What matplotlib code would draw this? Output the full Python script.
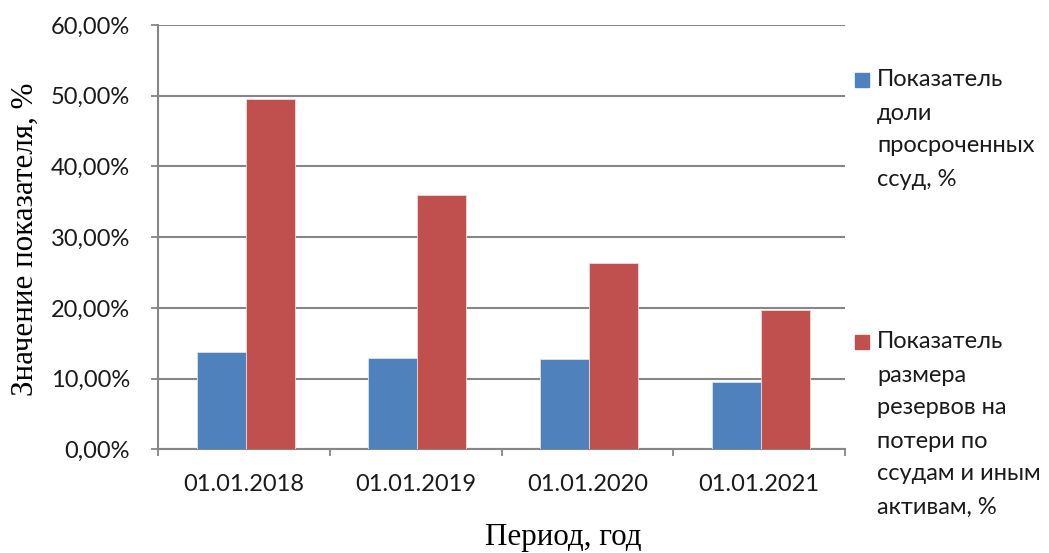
import matplotlib
matplotlib.use("Agg")
import matplotlib.pyplot as plt
from matplotlib.patches import Rectangle
from matplotlib.ticker import FuncFormatter, FixedLocator
import numpy as np

categories = ["01.01.2018", "01.01.2019", "01.01.2020", "01.01.2021"]
overdue_share = [13.8, 12.9, 12.8, 9.45]
reserves_share = [49.6, 35.9, 26.4, 19.7]
series_names = ["Показатель\nдоли\nпросроченных\nссуд, %",
                "Показатель\nразмера\nрезервов на\nпотери по\nссудам и иным\nактивам, %"]
colors = ["#4F81BD", "#C0504D"]
y_label = "Значение показателя, %"
x_label = "Период, год"

W, H = 1049, 553
fig = plt.figure(figsize=(W / 100, H / 100), dpi=100)
L, R, B, T = 158, 845, 449.3, 25
ax = fig.add_axes([L / W, 1 - B / H, (R - L) / W, (B - T) / H])

tick_font = "Lato"
grid_c = "#868686"
fs = 17

x = np.arange(len(categories))
bw = 0.285
ax.bar(x - bw / 2 + 0.01, overdue_share, width=bw, color=colors[0], edgecolor="#dbe4f0", linewidth=0.6, zorder=3)
ax.bar(x + bw / 2 + 0.01, reserves_share, width=bw, color=colors[1], edgecolor="#f0dada", linewidth=0.6, zorder=3)

ax.set_xlim(-0.5, len(categories) - 0.5)
ax.set_ylim(0, 60)
ax.yaxis.set_major_locator(FixedLocator(np.arange(0, 61, 10)))
ax.yaxis.set_major_formatter(FuncFormatter(lambda v, p: f"{v:.2f}%".replace(".", ",")))
ax.grid(axis="y", color=grid_c, linewidth=1.5, zorder=0)
ax.set_axisbelow(True)

ax.set_xticks(x)
ax.set_xticklabels(categories)
ax.set_xticks(np.arange(-0.5, len(categories)), minor=True)
ax.tick_params(axis="x", which="major", length=0, pad=18)
ax.tick_params(axis="x", which="minor", length=5, width=1.3, color=grid_c)
ax.tick_params(axis="y", length=5, width=1.3, color=grid_c, pad=15)
for lab in ax.get_xticklabels() + ax.get_yticklabels():
    lab.set_fontfamily(tick_font)
    lab.set_fontsize(fs)
    lab.set_color("#1a1a1a")

for s in ["top", "right"]:
    ax.spines[s].set_visible(False)
for s in ["left", "bottom"]:
    ax.spines[s].set_color(grid_c)
    ax.spines[s].set_linewidth(1.5)

fig.text(25 / W, 1 - 239 / H, y_label, rotation=90, ha="center", va="center",
         fontfamily="Liberation Serif", fontsize=22.3)
fig.text(563 / W, 1 - 538 / H, x_label, ha="center", va="center",
         fontfamily="Liberation Serif", fontsize=22.3)

# legend drawn manually
entries_top = [80, 342]
line_step = 33
for name, col, y0 in zip(series_names, colors, entries_top):
    fig.patches.append(Rectangle((855 / W, 1 - (y0 + 7) / H), 14 / W, 14 / H,
                                 transform=fig.transFigure, color=col))
    for i, line in enumerate(name.split("\n")):
        fig.text(877 / W, 1 - (y0 + i * line_step) / H, line, ha="left", va="center",
                 fontfamily=tick_font, fontsize=fs, color="#1a1a1a")

fig.savefig("out.png", dpi=100)
